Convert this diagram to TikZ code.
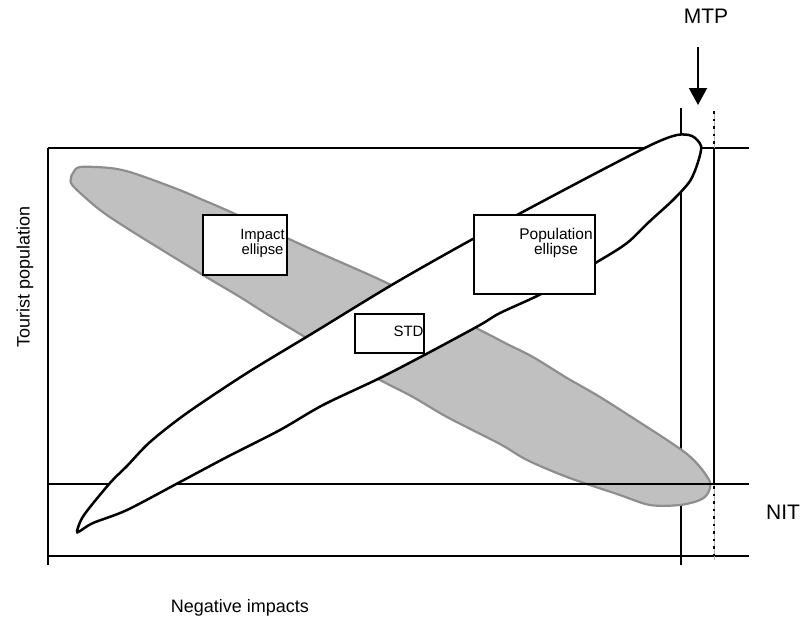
\documentclass[tikz,border=0pt]{standalone}
\usepackage{fontspec}
\setmainfont{Liberation Sans}
\usetikzlibrary{arrows.meta}
\definecolor{impfill}{HTML}{C0C0C0}
\definecolor{impedge}{HTML}{8E8E8E}
\begin{document}
\begin{tikzpicture}[x=1pt,y=-1pt,
  frameline/.style={line width=2pt,black},
  boxstyle/.style={draw,line width=2pt,fill=white},
  lbl/.style={font=\fontsize{15.5}{15}\selectfont,align=center,inner sep=0pt},
  biglbl/.style={font=\fontsize{21}{21}\selectfont,inner sep=0pt},
  axlbl/.style={font=\fontsize{18}{18}\selectfont,inner sep=0pt}]
\useasboundingbox (0,0) rectangle (805,619);
% frame lines
\coordinate (tl) at (48,148); \coordinate (tr) at (749,148);
\coordinate (bl) at (48,556); \coordinate (br) at (749,556);
\coordinate (lb) at (48,565);
\coordinate (nl) at (48,484); \coordinate (nr) at (749,484);
\coordinate (mt) at (681,108); \coordinate (mb) at (681,565);
\coordinate (dt) at (714,111); \coordinate (db) at (714,560);
\coordinate (st) at (714,148); \coordinate (sb) at (714,484);
\draw[frameline] (tl) -- (tr);
\draw[frameline] (tl) -- (lb);
\draw[frameline] (bl) -- (br);
\draw[frameline] (mt) -- (mb);
\draw[gray!60,line width=0.8pt] (dt) -- (db);
\draw[black,line width=2.2pt,dash pattern=on 2.5pt off 5pt] (dt) -- (db);
\draw[frameline] (st) -- (sb);
% impact ellipse (grey)
\draw[fill=impfill,draw=impedge,line width=2.2pt] plot[smooth cycle,tension=0.5] coordinates {
 (73,173) (80,167) (110,168) (133,173) (177,189) (203,200) (233,213) (313,250)
 (387,283) (480,330) (507,344) (533,357) (567,378) (600,397) (647,427) (667,440)
 (687,454) (700,467) (710,482) (708,493) (700,500) (680,505) (650,505) (617,494)
 (567,477) (527,460) (500,444) (447,417) (413,397) (380,380) (340,358) (300,334)
 (270,316) (240,297) (203,275) (133,232) (100,210) (73,186) (71,178)};
\draw[frameline] (nl) -- (nr);
% population ellipse
\draw[fill=white,draw=black,line width=2.5pt] plot[smooth cycle,tension=0.5] coordinates {
 (77,531) (84,515) (110,483) (127,466) (150,442) (187,413) (247,373) (313,333)
 (390,286) (453,250) (517,215) (600,171) (653,144) (677,135) (692,136) (701,146)
 (698,162) (690,181) (673,200) (650,221) (627,243) (597,262) (543,293) (500,313)
 (480,325) (430,352) (380,378) (323,405) (280,430) (227,457) (180,482) (127,510)
 (93,523) (80,531)};
% boxes
\node[boxstyle,minimum width=84pt,minimum height=60pt,inner sep=0pt] (impbox) at (245,245) {};
\node[boxstyle,minimum width=121pt,minimum height=79pt,inner sep=0pt] (popbox) at (534.5,254.5) {};
\node[boxstyle,minimum width=69pt,minimum height=39pt,inner sep=0pt] (stdbox) at (389.5,333.5) {};
\node[lbl,font=\fontsize{14.8}{15}\selectfont] (imptxt) at (262.5,243.5) {Impact\\ellipse};
\node[lbl] (poptxt) at (556,242.5) {Population\\ellipse};
\node[lbl,font=\fontsize{15}{15}\selectfont] (stdtxt) at (408.5,331) {STD};
% labels
\node[biglbl] (mtp) at (706,16) {MTP};
\coordinate (arrtop) at (698,47);
\coordinate (arrtip) at (698,105);
\draw[line width=2pt,-{Triangle[width=18pt,length=17pt]}] (arrtop) -- (arrtip);
\node[biglbl] (nit) at (783,512) {NIT};
\node[axlbl,rotate=90] (ylab) at (25,277) {Tourist population};
\node[axlbl] (xlab) at (240,608) {Negative impacts};
\end{tikzpicture}
\end{document}
